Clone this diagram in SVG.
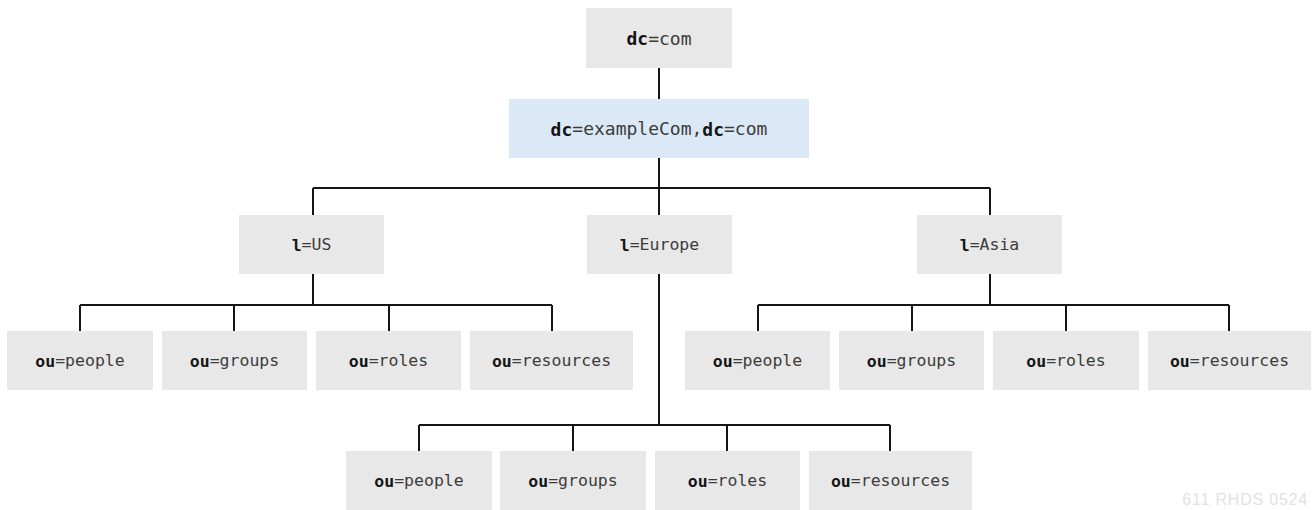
<svg xmlns="http://www.w3.org/2000/svg" width="1313" height="510" viewBox="0 0 1313 510">
<style>
.box{fill:#e8e8e8}
.blue{fill:#dbe8f5}
.t{font-family:"DejaVu Sans Mono","Liberation Mono",monospace;font-size:16.5px;fill:#3c3c3c;text-anchor:middle;dominant-baseline:central}
.big{font-size:18px}
.b{font-weight:bold;fill:#151515}
.c{stroke:#151515;stroke-width:2;fill:none}
.wm{font-family:"Liberation Sans",sans-serif;font-size:16px;letter-spacing:0.8px;fill:#e2e2e2;text-anchor:end}
</style>
<rect width="1313" height="510" fill="#ffffff"/>
<g id="connectors">
<path class="c" d="M659 68V99M659 158V215M313 188H990M313 188V215M990 188V215"/>
<path class="c" d="M313 274V305M80 305H552M80 305V331M234 305V331M389 305V331M552 305V331"/>
<path class="c" d="M990 274V305M758 305H1229M758 305V331M912 305V331M1066 305V331M1229 305V331"/>
<path class="c" d="M659 274V425M419 425H890M419 425V451M573 425V451M727 425V451M890 425V451"/>
</g>
<g id="dc-com"><rect class="box" x="586" y="8" width="146" height="60"/><text class="t big" x="659" y="38"><tspan class="b">dc</tspan>=com</text></g>
<g id="dc-examplecom"><rect class="blue" x="509" y="99" width="300" height="59"/><text class="t big" x="659" y="128.5"><tspan class="b">dc</tspan>=exampleCom,<tspan class="b">dc</tspan>=com</text></g>
<g id="l-us"><rect class="box" x="239" y="215" width="145" height="59"/><text class="t" x="311.5" y="244.5"><tspan class="b">l</tspan>=US</text></g>
<g id="l-europe"><rect class="box" x="587" y="215" width="145" height="59"/><text class="t" x="659.5" y="244.5"><tspan class="b">l</tspan>=Europe</text></g>
<g id="l-asia"><rect class="box" x="917" y="215" width="145" height="59"/><text class="t" x="989.5" y="244.5"><tspan class="b">l</tspan>=Asia</text></g>
<g id="us-people"><rect class="box" x="7" y="331" width="146" height="59"/><text class="t" x="80" y="360.5"><tspan class="b">ou</tspan>=people</text></g>
<g id="us-groups"><rect class="box" x="162" y="331" width="145" height="59"/><text class="t" x="234.5" y="360.5"><tspan class="b">ou</tspan>=groups</text></g>
<g id="us-roles"><rect class="box" x="316" y="331" width="145" height="59"/><text class="t" x="388.5" y="360.5"><tspan class="b">ou</tspan>=roles</text></g>
<g id="us-resources"><rect class="box" x="470" y="331" width="163" height="59"/><text class="t" x="551.5" y="360.5"><tspan class="b">ou</tspan>=resources</text></g>
<g id="asia-people"><rect class="box" x="685" y="331" width="145" height="59"/><text class="t" x="757.5" y="360.5"><tspan class="b">ou</tspan>=people</text></g>
<g id="asia-groups"><rect class="box" x="839" y="331" width="145" height="59"/><text class="t" x="911.5" y="360.5"><tspan class="b">ou</tspan>=groups</text></g>
<g id="asia-roles"><rect class="box" x="993" y="331" width="146" height="59"/><text class="t" x="1066" y="360.5"><tspan class="b">ou</tspan>=roles</text></g>
<g id="asia-resources"><rect class="box" x="1148" y="331" width="163" height="59"/><text class="t" x="1229.5" y="360.5"><tspan class="b">ou</tspan>=resources</text></g>
<g id="eu-people"><rect class="box" x="346" y="451" width="146" height="59"/><text class="t" x="419" y="480.5"><tspan class="b">ou</tspan>=people</text></g>
<g id="eu-groups"><rect class="box" x="500" y="451" width="146" height="59"/><text class="t" x="573" y="480.5"><tspan class="b">ou</tspan>=groups</text></g>
<g id="eu-roles"><rect class="box" x="655" y="451" width="145" height="59"/><text class="t" x="727.5" y="480.5"><tspan class="b">ou</tspan>=roles</text></g>
<g id="eu-resources"><rect class="box" x="809" y="451" width="163" height="59"/><text class="t" x="890.5" y="480.5"><tspan class="b">ou</tspan>=resources</text></g>
<text class="wm" x="1308" y="505">611 RHDS 0524</text>
</svg>
